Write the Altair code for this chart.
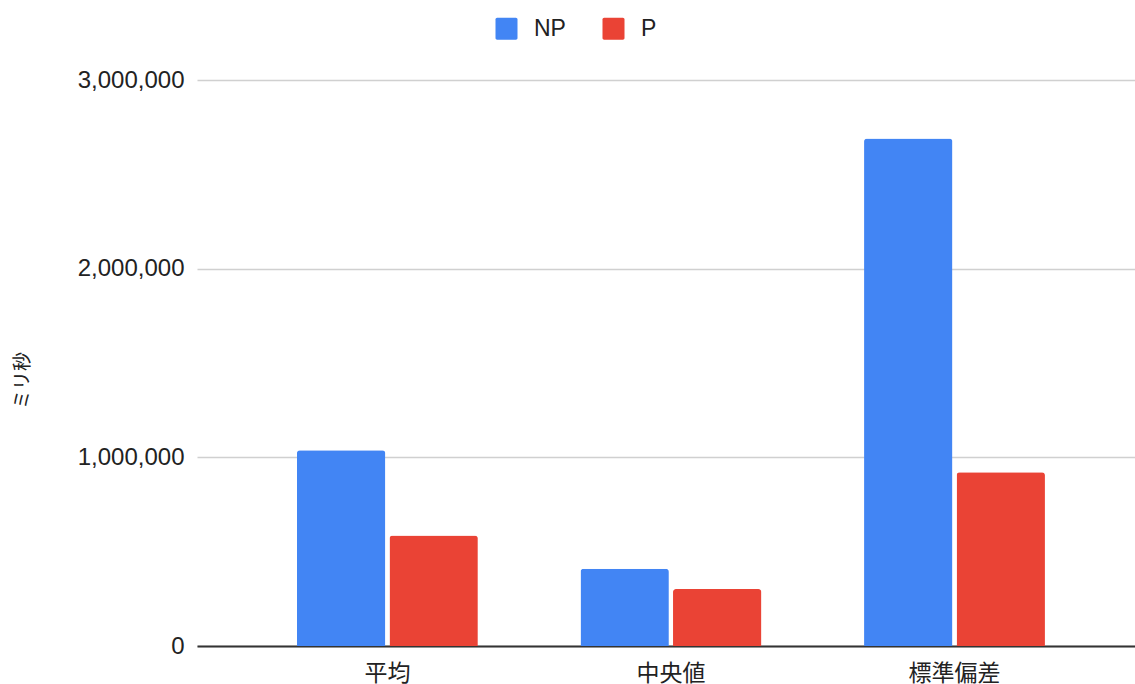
import altair as alt
import pandas as pd

# Summary statistics of response times (milliseconds)
categories = ["平均", "中央値", "標準偏差"]
series = ["NP", "P"]
np_values = [1037000, 410000, 2690000]
p_values = [586000, 302000, 921000]
colors = ["#4285F4", "#EA4335"]

rows = []
for cat, v in zip(categories, np_values):
    rows.append({"stat": cat, "group": "NP", "ms": v})
for cat, v in zip(categories, p_values):
    rows.append({"stat": cat, "group": "P", "ms": v})
df = pd.DataFrame(rows)

FONT = "Liberation Sans, Arial, Noto Sans CJK JP, sans-serif"
ROUNDED_SQUARE = (
    "M-0.85,-1 H0.85 A0.15,0.15 0 0 1 1,-0.85 V0.85 A0.15,0.15 0 0 1 0.85,1 "
    "H-0.85 A0.15,0.15 0 0 1 -1,0.85 V-0.85 A0.15,0.15 0 0 1 -0.85,-1 Z"
)

bars = alt.Chart(df).mark_bar(
    cornerRadiusTopLeft=3, cornerRadiusTopRight=3
).encode(
    x=alt.X(
        "stat:N",
        sort=categories,
        title=None,
        scale=alt.Scale(paddingInner=0.362, paddingOuter=0.335, align=0.526),
        axis=alt.Axis(
            labelAngle=0,
            labelFontSize=23,
            labelColor="#222222",
            labelPadding=16,
            ticks=False,
            domainColor="#333333",
            domainWidth=2,
            grid=False,
        ),
    ),
    xOffset=alt.XOffset(
        "group:N", sort=series, scale=alt.Scale(paddingInner=0.045, paddingOuter=0)
    ),
    y=alt.Y(
        "ms:Q",
        title="ミリ秒",
        scale=alt.Scale(domain=[0, 3000000], nice=False),
        axis=alt.Axis(
            values=[0, 1000000, 2000000, 3000000],
            format=",d",
            labelFontSize=24,
            labelColor="#222222",
            labelPadding=13,
            ticks=False,
            domain=False,
            gridColor="#d0d0d0",
            gridWidth=1.5,
            titleFontSize=19,
            titleFontWeight="normal",
            titleColor="#222222",
            titleX=-165,
            titleY=300,
        ),
    ),
    color=alt.Color(
        "group:N",
        sort=series,
        scale=alt.Scale(domain=series, range=colors),
        legend=alt.Legend(
            title=None,
            orient="none",
            direction="horizontal",
            legendX=298,
            legendY=-63,
            symbolType=ROUNDED_SQUARE,
            symbolSize=484,
            symbolStrokeWidth=0,
            symbolOpacity=1,
            labelFontSize=23,
            labelColor="#222222",
            labelOffset=16,
            columnPadding=36,
        ),
    ),
)

chart = bars.properties(
    width=938,
    height=566,
    autosize=alt.AutoSizeParams(type="none"),
    padding={"left": 197, "top": 80, "right": 0, "bottom": 38},
).configure(
    font=FONT,
).configure_view(
    stroke=None,
).configure_axis(
    labelFont=FONT,
    titleFont=FONT,
).configure_legend(
    labelFont=FONT,
)

chart.save("out.html", embed_options={"renderer": "svg", "actions": False})
